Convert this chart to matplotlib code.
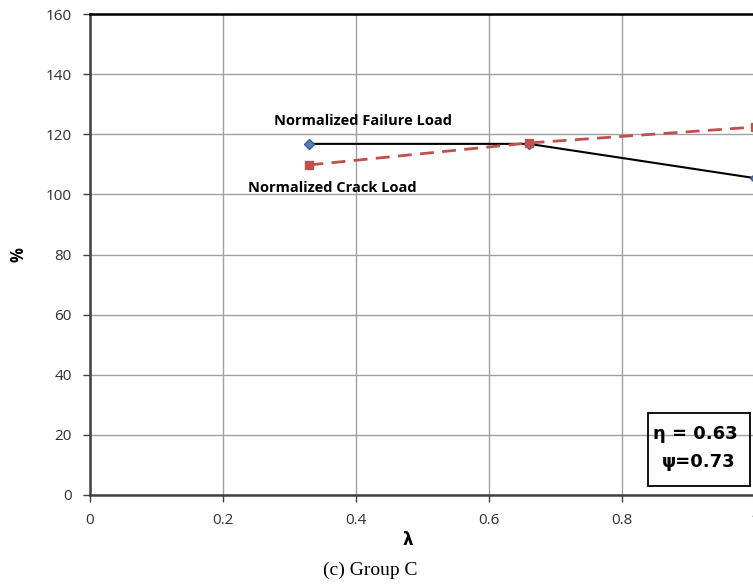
import matplotlib.pyplot as plt

# Normalized loads vs lambda (Group C)
lam = [0.33, 0.66, 1.0]
failure_load = [116.8, 116.8, 105.4]
crack_load = [109.8, 117.1, 122.4]

x_ticks = [0, 0.2, 0.4, 0.6, 0.8, 1.0]
x_tick_labels = ['0', '0.2', '0.4', '0.6', '0.8', '1']
y_ticks = [0, 20, 40, 60, 80, 100, 120, 140, 160]

plt.rcParams['font.family'] = ['Open Sans', 'DejaVu Sans']

W, H = 753, 585
fig = plt.figure(figsize=(W / 100, H / 100), dpi=100)

# axes runs past the right edge, x=1 lands on the border
left, right_at_1 = 90, 755
bottom, top = 495, 14
xmax = 1.1
ax = fig.add_axes([left / W, (H - bottom) / H,
                   (right_at_1 - left) * xmax / W, (bottom - top) / H])

ax.plot(lam, failure_load, color='black', lw=1.5, marker='D', ms=5,
        mfc='#4f81bd', mec='#385d8a', zorder=3)
ax.plot(lam, crack_load, color='#c0504d', lw=2, ls=(0, (5, 3)), marker='s', ms=6,
        mfc='#c0504d', mec='#c0504d', zorder=3)

ax.set_xlim(0, xmax)
ax.set_ylim(0, 160)
ax.set_xticks(x_ticks)
ax.set_xticklabels(x_tick_labels)
ax.set_yticks(y_ticks)
ax.grid(True, color='#a0a0a0', lw=1)
ax.set_axisbelow(True)
for s in ['left', 'bottom', 'top']:
    ax.spines[s].set_color('#404040')
    ax.spines[s].set_linewidth(1.8)
ax.spines['top'].set_color('black')
ax.spines['right'].set_visible(False)
ax.tick_params(axis='both', labelsize=11, colors='#404040', length=5,
               width=1, labelcolor='#303030')
ax.tick_params(axis='x', pad=8)
ax.tick_params(axis='y', pad=8)

ax.text(0.41, 124.5, 'Normalized Failure Load', fontsize=10.5, fontweight='bold',
        ha='center', va='center', color='black')
ax.text(0.364, 102.0, 'Normalized Crack Load', fontsize=10.5, fontweight='bold',
        ha='center', va='center', color='black')

# parameter box (no fill, grid shows through)
box = plt.Rectangle((648 / W, 1 - 486 / H), 102 / W, 73 / H, transform=fig.transFigure,
                    fc='none', ec='black', lw=1.3, zorder=5)
fig.add_artist(box)
fig.text(695 / W, 1 - 434 / H, 'η = 0.63', fontsize=13, fontweight='bold',
         ha='center', va='center', family='DejaVu Sans', zorder=6)
fig.text(699 / W, 1 - 462 / H, 'ψ=0.73', fontsize=13, fontweight='bold',
         ha='center', va='center', family='DejaVu Sans', zorder=6)

fig.text(18 / W, 1 - 255 / H, '%', fontsize=12, fontweight='bold', rotation=90,
         ha='center', va='center')
fig.text(408 / W, 1 - 540 / H, 'λ', fontsize=12, fontweight='bold',
         ha='center', va='center', family='DejaVu Sans')
fig.text(370 / W, 1 - 570 / H, '(c) Group C', fontsize=14,
         ha='center', va='center', family='Liberation Serif')

fig.savefig('out.png', dpi=100)
